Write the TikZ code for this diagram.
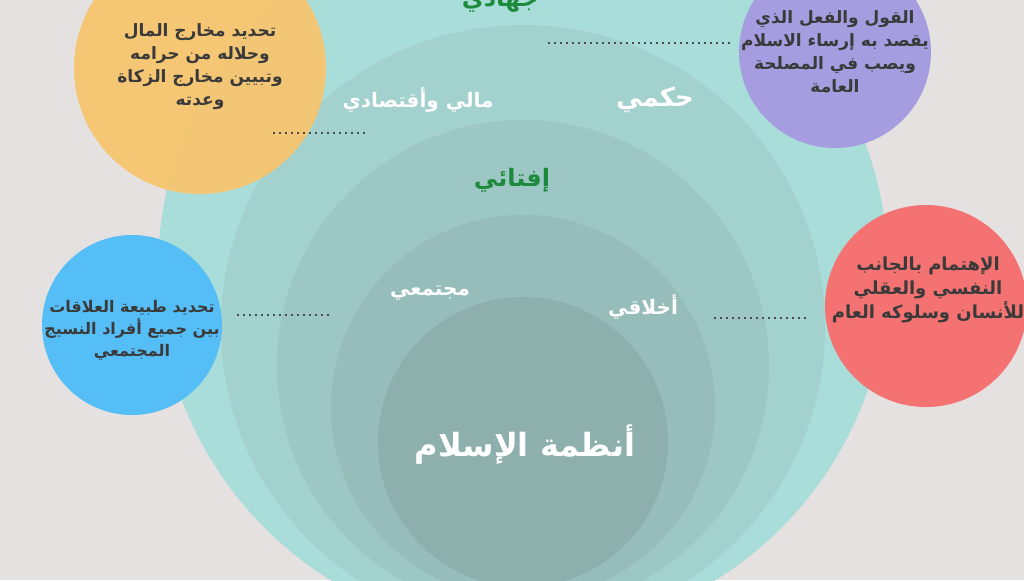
\documentclass[tikz,border=0pt]{standalone}
\usepackage{fontspec}
\newfontfamily\arabicfont[Script=Arabic]{DejaVu Sans}
\TeXXeTstate=1
\newcommand{\ar}[1]{{\arabicfont\beginR #1\endR}}
\definecolor{bgcol}{HTML}{E6E1E1}
\definecolor{ringa}{HTML}{A9DDD9}
\definecolor{ringb}{HTML}{A3D1CE}
\definecolor{ringc}{HTML}{9DC7C4}
\definecolor{ringd}{HTML}{96BDBA}
\definecolor{ringe}{HTML}{8DB0AD}
\definecolor{yel}{HTML}{F6C56F}
\definecolor{pur}{HTML}{A69CE0}
\definecolor{redc}{HTML}{F47272}
\definecolor{blu}{HTML}{56BEF6}
\definecolor{grn}{HTML}{1E8A3C}
\definecolor{txt}{HTML}{3A3A3A}
\tikzset{
    ring/.style={circle, inner sep=0pt},
    bubble/.style={txt, font=\bfseries\fontsize{8.5}{11.5}\selectfont, align=center},
    lbl/.style={white, font=\bfseries\fontsize{10}{12}\selectfont},
    dots/.style={draw=gray!60!black, dotted, line width=1pt}
}
\begin{document}
\begin{tikzpicture}[x=0.5pt, y=-0.5pt]
        \useasboundingbox[fill=bgcol] (0,0) rectangle (1024,580);
        \begin{scope}
        \clip (0,0) rectangle (1024,580);

        % Nested rings
        \fill[ringa] (523,270) circle (365);
        \fill[ringb] (523,327) circle (302);
        \fill[ringc] (523,366) circle (246);
        \fill[ringd] (523,407) circle (192);
        \fill[ringe] (523,442) circle (145);

        % Side bubbles
        \fill[yel, fill opacity=0.95] (200,68) circle (126);
        \fill[pur] (835,52) circle (96);
        \fill[redc] (926,306) circle (101);
        \fill[blu] (132,325) circle (90);

        \node[lbl, grn, font=\bfseries\fontsize{12}{14}\selectfont] (jihad) at (500,0) {\ar{جهادي}};
        \end{scope}

        \node[lbl, font=\bfseries\fontsize{13}{15}\selectfont] (hukmi) at (655,100) {\ar{حكمي}};
        \node[lbl] (mali) at (418,100) {\ar{مالي وأقتصادي}};
        \node[lbl, grn, font=\bfseries\fontsize{12}{14}\selectfont] (ifta) at (512,180) {\ar{إفتائي}};
        \node[lbl] (mujtama) at (430,293) {\ar{مجتمعي}};
        \node[lbl] (akhlaq) at (643,307) {\ar{أخلاقي}};
        \node[lbl, font=\bfseries\fontsize{16}{19}\selectfont] (title) at (525,445) {\ar{أنظمة الإسلام}};

        \node[bubble] (yeltext) at (200,67) {\ar{تحديد مخارج المال}\\\ar{وحلاله من حرامه}\\\ar{وتبيين مخارج الزكاة}\\\ar{وعدته}};
        \node[bubble] (purtext) at (835,52) {\ar{القول والفعل الذي}\\\ar{يقصد به إرساء الاسلام}\\\ar{ويصب في المصلحة}\\\ar{العامة}};
        \node[bubble, font=\bfseries\fontsize{9}{12}\selectfont] (redtext) at (928,290) {\ar{الإهتمام بالجانب}\\\ar{النفسي والعقلي}\\\ar{للأنسان وسلوكه العام}};
        \node[bubble, font=\bfseries\fontsize{8}{11}\selectfont] (blutext) at (132,330) {\ar{تحديد طبيعة العلاقات}\\\ar{بين جميع أفراد النسيج}\\\ar{المجتمعي}};

        % Dotted links
        \coordinate (d1a) at (548,43);  \coordinate (d1b) at (733,43);
        \coordinate (d2a) at (273,133); \coordinate (d2b) at (367,133);
        \coordinate (d3a) at (237,315); \coordinate (d3b) at (331,315);
        \coordinate (d4a) at (714,318); \coordinate (d4b) at (808,318);
        \draw[dots] (d1a) -- (d1b);
        \draw[dots] (d2a) -- (d2b);
        \draw[dots] (d3a) -- (d3b);
        \draw[dots] (d4a) -- (d4b);
    \end{tikzpicture}
\end{document}
